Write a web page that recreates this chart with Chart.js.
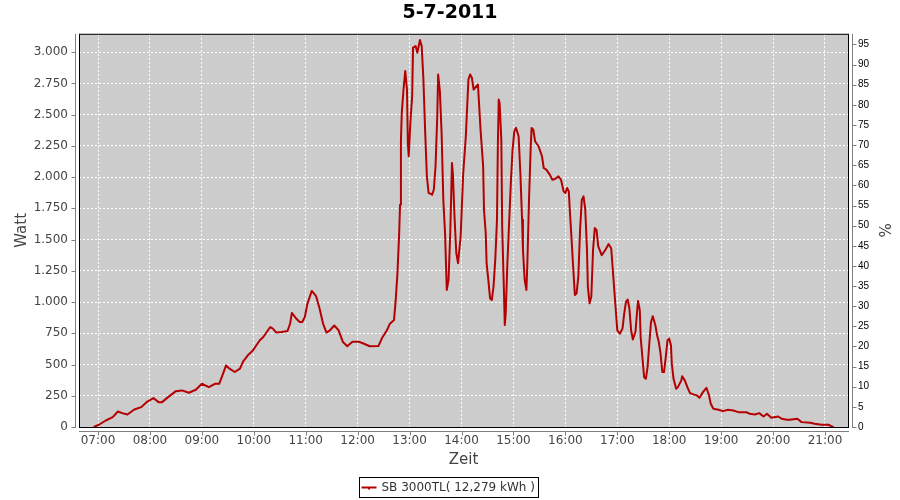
<!DOCTYPE html>
<html>
<head>
<meta charset="utf-8">
<title>5-7-2011</title>
<script src="https://cdn.jsdelivr.net/npm/chart.js@4/dist/chart.umd.min.js"></script>
<style>
  html, body { margin: 0; padding: 0; background: #fff; }
  canvas { display: block; }
</style>
</head>
<body>
<canvas id="grafico" width="900" height="500"></canvas>
<script>
// Tagesverlauf SB 3000TL, 5-7-2011

const zeit = [
  '06:55', '07:01', '07:09', '07:17', '07:23', '07:28', '07:34', '07:42', '07:50', '07:57',
  '08:04', '08:10', '08:14', '08:21', '08:30', '08:37', '08:45', '08:53', '09:00', '09:08',
  '09:15', '09:20', '09:23', '09:28', '09:32', '09:38', '09:44', '09:48', '09:54', '09:59',
  '10:03', '10:07', '10:11', '10:15', '10:19', '10:22', '10:26', '10:32', '10:39', '10:42',
  '10:44', '10:49', '10:53', '10:56', '10:59', '11:02', '11:07', '11:12', '11:16', '11:20',
  '11:24', '11:28', '11:33', '11:38', '11:43', '11:48', '11:54', '12:01', '12:06', '12:14',
  '12:24', '12:28', '12:34', '12:37', '12:42', '12:44', '12:46', '12:48', '12:49', '12:50',
  '12:51', '12:53', '12:55', '12:57', '12:58', '12:59', '13:01', '13:03', '13:04', '13:07',
  '13:09', '13:12', '13:14', '13:16', '13:18', '13:20', '13:22', '13:26', '13:28', '13:30',
  '13:32', '13:33', '13:35', '13:37', '13:39', '13:41', '13:43', '13:45', '13:47', '13:49',
  '13:50', '13:52', '13:54', '13:56', '13:59', '14:02', '14:05', '14:08', '14:10', '14:12',
  '14:14', '14:19', '14:20', '14:22', '14:25', '14:26', '14:28', '14:29', '14:31', '14:33',
  '14:35', '14:37', '14:39', '14:41', '14:42', '14:43', '14:44', '14:46', '14:47', '14:49',
  '14:50', '14:51', '14:53', '14:55', '14:57', '14:59', '15:01', '15:03', '15:06', '15:08',
  '15:10', '15:11', '15:13', '15:15', '15:16', '15:18', '15:20', '15:21', '15:23', '15:25',
  '15:29', '15:33', '15:35', '15:38', '15:42', '15:45', '15:48', '15:52', '15:55', '15:58',
  '16:00', '16:02', '16:04', '16:05', '16:07', '16:09', '16:11', '16:13', '16:15', '16:17',
  '16:19', '16:21', '16:23', '16:25', '16:26', '16:28', '16:30', '16:32', '16:34', '16:36',
  '16:38', '16:42', '16:46', '16:50', '16:53', '16:54', '16:56', '16:58', '17:00', '17:03',
  '17:06', '17:08', '17:10', '17:12', '17:14', '17:16', '17:18', '17:21', '17:23', '17:24',
  '17:26', '17:27', '17:29', '17:31', '17:33', '17:35', '17:37', '17:39', '17:41', '17:44',
  '17:46', '17:48', '17:50', '17:52', '17:54', '17:56', '17:58', '18:00', '18:02', '18:03',
  '18:05', '18:08', '18:10', '18:14', '18:15', '18:18', '18:21', '18:24', '18:28', '18:32',
  '18:35', '18:39', '18:43', '18:46', '18:48', '18:51', '18:57', '19:02', '19:08', '19:14',
  '19:20', '19:29', '19:33', '19:39', '19:44', '19:49', '19:53', '19:58', '20:06', '20:10',
  '20:16', '20:19', '20:28', '20:33', '20:43', '20:48', '20:56', '21:04', '21:08', '21:10'
];

const watt = [
  0, 18, 52, 79, 124, 111, 100, 140, 159, 204,
  231, 199, 199, 239, 287, 293, 274, 298, 346, 319,
  346, 346, 400, 493, 467, 440, 467, 528, 581, 613,
  654, 694, 720, 760, 800, 788, 756, 760, 768, 828,
  913, 868, 841, 841, 881, 988, 1089, 1047, 948, 828,
  756, 774, 812, 774, 680, 646, 683, 683, 670, 646,
  648, 710, 776, 824, 856, 1017, 1231, 1552, 1779, 2287,
  2514, 2701, 2849, 2701, 2274, 2167, 2448, 2648, 3036, 3049,
  2996, 3097, 3049, 2781, 2367, 2006, 1873, 1859, 1899, 2087,
  2488, 2822, 2688, 2354, 1819, 1552, 1097, 1177, 1552, 2113,
  2033, 1672, 1391, 1311, 1525, 2033, 2327, 2781, 2822, 2795,
  2701, 2741, 2621, 2380, 2087, 1739, 1552, 1311, 1177, 1031,
  1017, 1124, 1338, 1659, 2247, 2621, 2594, 2300, 1605, 1097,
  816, 897, 1311, 1632, 1953, 2220, 2367, 2394, 2327, 2033,
  1659, 1418, 1177, 1097, 1285, 1819, 2247, 2394, 2380, 2287,
  2247, 2167, 2073, 2060, 2020, 1979, 1985, 2006, 1979, 1886,
  1873, 1913, 1886, 1752, 1525, 1285, 1057, 1071, 1205, 1578,
  1819, 1846, 1739, 1418, 1124, 990, 1044, 1418, 1592, 1578,
  1445, 1375, 1415, 1464, 1429, 1335, 1148, 961, 774, 747,
  788, 908, 1001, 1020, 948, 774, 700, 760, 934, 1009,
  934, 720, 560, 399, 386, 480, 667, 841, 886, 814,
  734, 680, 587, 440, 440, 560, 694, 707, 654, 507,
  386, 306, 319, 373, 407, 373, 319, 271, 261, 253,
  234, 279, 314, 253, 186, 146, 138, 127, 138, 132,
  119, 119, 106, 100, 111, 84, 106, 74, 84, 66,
  58, 58, 66, 39, 34, 26, 18, 18, 4, 0
];

// Achsen
const stundenTicks = [7, 8, 9, 10, 11, 12, 13, 14, 15, 16, 17, 18, 19, 20, 21];
const wattTicks = [0, 250, 500, 750, 1000, 1250, 1500, 1750, 2000, 2250, 2500, 2750, 3000];
const prozentTicks = [0, 5, 10, 15, 20, 25, 30, 35, 40, 45, 50, 55, 60, 65, 70, 75, 80, 85, 90, 95];
const X_MIN = 6.634, X_MAX = 21.443;
const WATT_MAX = 3147;
const NENNLEISTUNG = 3223; // 100 %

const TITEL = '5-7-2011';
const SERIE = 'SB 3000TL( 12,279 kWh )';
const ROT = '#b40000';
const GRAU_ACHSE = '#808080';

function stunden(hhmm) {
  const [h, m] = hhmm.split(':').map(Number);
  return h + m / 60;
}

function formatWatt(v) {
  return String(v).replace(/\B(?=(\d{3})+(?!\d))/g, '.');
}

function formatUhrzeit(v) {
  const h = Math.floor(v);
  const m = Math.round((v - h) * 60);
  return String(h).padStart(2, '0') + ':' + String(m).padStart(2, '0');
}

const punkte = zeit.map((z, i) => ({ x: stunden(z), y: watt[i] }));

Chart.defaults.font.family = "'DejaVu Sans', sans-serif";
Chart.defaults.color = '#444';

// Hintergrund, Rahmen, versetzte Achsenlinien und Legende im JFreeChart-Stil
const plotRahmen = {
  id: 'plotRahmen',
  beforeDraw(chart) {
    const { ctx, chartArea: a } = chart;
    ctx.save();
    ctx.fillStyle = '#ffffff';
    ctx.fillRect(0, 0, chart.width, chart.height);
    ctx.fillStyle = '#cccccc';
    ctx.fillRect(a.left, a.top, a.right - a.left, a.bottom - a.top);
    ctx.restore();
  },
  afterDraw(chart) {
    const { ctx, chartArea: a, scales } = chart;
    ctx.save();
    ctx.lineWidth = 1;
    ctx.strokeStyle = '#000';
    ctx.strokeRect(a.left + 0.5, a.top + 0.5, a.right - a.left, a.bottom - a.top);

    ctx.strokeStyle = GRAU_ACHSE;
    ctx.beginPath();
    // links
    const xl = a.left - 3.5;
    ctx.moveTo(xl, a.top); ctx.lineTo(xl, a.bottom + 1);
    scales.y.ticks.forEach((t) => {
      const py = Math.round(scales.y.getPixelForValue(t.value)) + 0.5;
      ctx.moveTo(xl - 4, py); ctx.lineTo(xl, py);
    });
    // unten
    const yb = a.bottom + 4.5;
    ctx.moveTo(a.left, yb); ctx.lineTo(a.right + 1, yb);
    scales.x.ticks.forEach((t) => {
      const px = Math.round(scales.x.getPixelForValue(t.value)) + 0.5;
      ctx.moveTo(px, yb); ctx.lineTo(px, yb + 4);
    });
    // rechts
    const xr = a.right + 4.5;
    ctx.moveTo(xr, a.top); ctx.lineTo(xr, a.bottom + 1);
    scales.yProzent.ticks.forEach((t) => {
      const py = Math.round(scales.yProzent.getPixelForValue(t.value)) + 0.5;
      ctx.moveTo(xr, py); ctx.lineTo(xr + 4, py);
    });
    ctx.stroke();

    // Legende
    ctx.font = "12px 'DejaVu Sans', sans-serif";
    const textBreite = ctx.measureText(SERIE).width;
    const bx = 359.5, by = 477.5, bh = 20;
    const bw = Math.round(22 + textBreite + 4);
    ctx.fillStyle = '#fff';
    ctx.fillRect(bx, by, bw, bh);
    ctx.strokeStyle = '#000';
    ctx.strokeRect(bx, by, bw, bh);
    ctx.strokeStyle = ROT;
    ctx.lineWidth = 2;
    ctx.beginPath();
    ctx.moveTo(bx + 2, by + 10); ctx.lineTo(bx + 17, by + 10);
    ctx.stroke();
    ctx.fillStyle = ROT;
    ctx.fillRect(bx + 8.5, by + 10, 2, 2);
    ctx.fillStyle = '#333';
    ctx.textBaseline = 'middle';
    ctx.textAlign = 'left';
    ctx.fillText(SERIE, bx + 22, by + 10.5);
    ctx.restore();
  }
};

new Chart(document.getElementById('grafico'), {
  type: 'line',
  data: {
    datasets: [{
      label: SERIE,
      data: punkte,
      borderColor: ROT,
      backgroundColor: ROT,
      borderWidth: 2,
      borderJoinStyle: 'round',
      pointRadius: 0,
      tension: 0,
      yAxisID: 'y'
    }]
  },
  options: {
    responsive: false,
    animation: false,
    layout: { padding: 0 },
    plugins: {
      legend: { display: false },
      tooltip: { enabled: false },
      title: {
        display: true,
        text: TITEL,
        color: '#000',
        font: { size: 19, weight: 'bold' },
        padding: { top: 2, bottom: 9 }
      }
    },
    scales: {
      x: {
        type: 'linear',
        position: 'bottom',
        min: X_MIN,
        max: X_MAX,
        bounds: 'data',
        afterBuildTicks: (s) => { s.ticks = stundenTicks.map((v) => ({ value: v })); },
        afterFit: (s) => { s.height = 73; },
        grid: { color: '#ffffff', lineWidth: 1, drawTicks: false },
        border: { display: false, dash: [2, 2] },
        ticks: { padding: 7, font: { size: 12 }, color: '#444', maxRotation: 0, autoSkip: false, callback: (v) => formatUhrzeit(v) },
        title: { display: true, text: 'Zeit', color: '#444', font: { size: 15 }, padding: { top: 0, bottom: 31 } }
      },
      y: {
        type: 'linear',
        position: 'left',
        min: 0,
        max: WATT_MAX,
        bounds: 'data',
        afterBuildTicks: (s) => { s.ticks = wattTicks.map((v) => ({ value: v })); },
        afterFit: (s) => { s.width = 79; },
        grid: { color: '#ffffff', lineWidth: 1, drawTicks: false },
        border: { display: false, dash: [2, 2] },
        ticks: { padding: 11, font: { size: 12 }, color: '#444', autoSkip: false, callback: (v) => formatWatt(v) },
        title: { display: true, text: 'Watt', color: '#444', font: { size: 15 }, padding: { top: 13, bottom: 0 } }
      },
      yProzent: {
        type: 'linear',
        position: 'right',
        min: 0,
        max: WATT_MAX / NENNLEISTUNG * 100,
        bounds: 'data',
        afterBuildTicks: (s) => { s.ticks = prozentTicks.map((v) => ({ value: v })); },
        afterFit: (s) => { s.width = 52; },
        grid: { drawOnChartArea: false, drawTicks: false },
        border: { display: false },
        ticks: { padding: 10, font: { family: "'Liberation Sans', sans-serif", size: 10 }, color: '#000', autoSkip: false },
        title: { display: true, text: '%', color: '#444', font: { size: 15 }, padding: { top: 8, bottom: 0 } }
      }
    }
  },
  plugins: [plotRahmen]
});
</script>
</body>
</html>
